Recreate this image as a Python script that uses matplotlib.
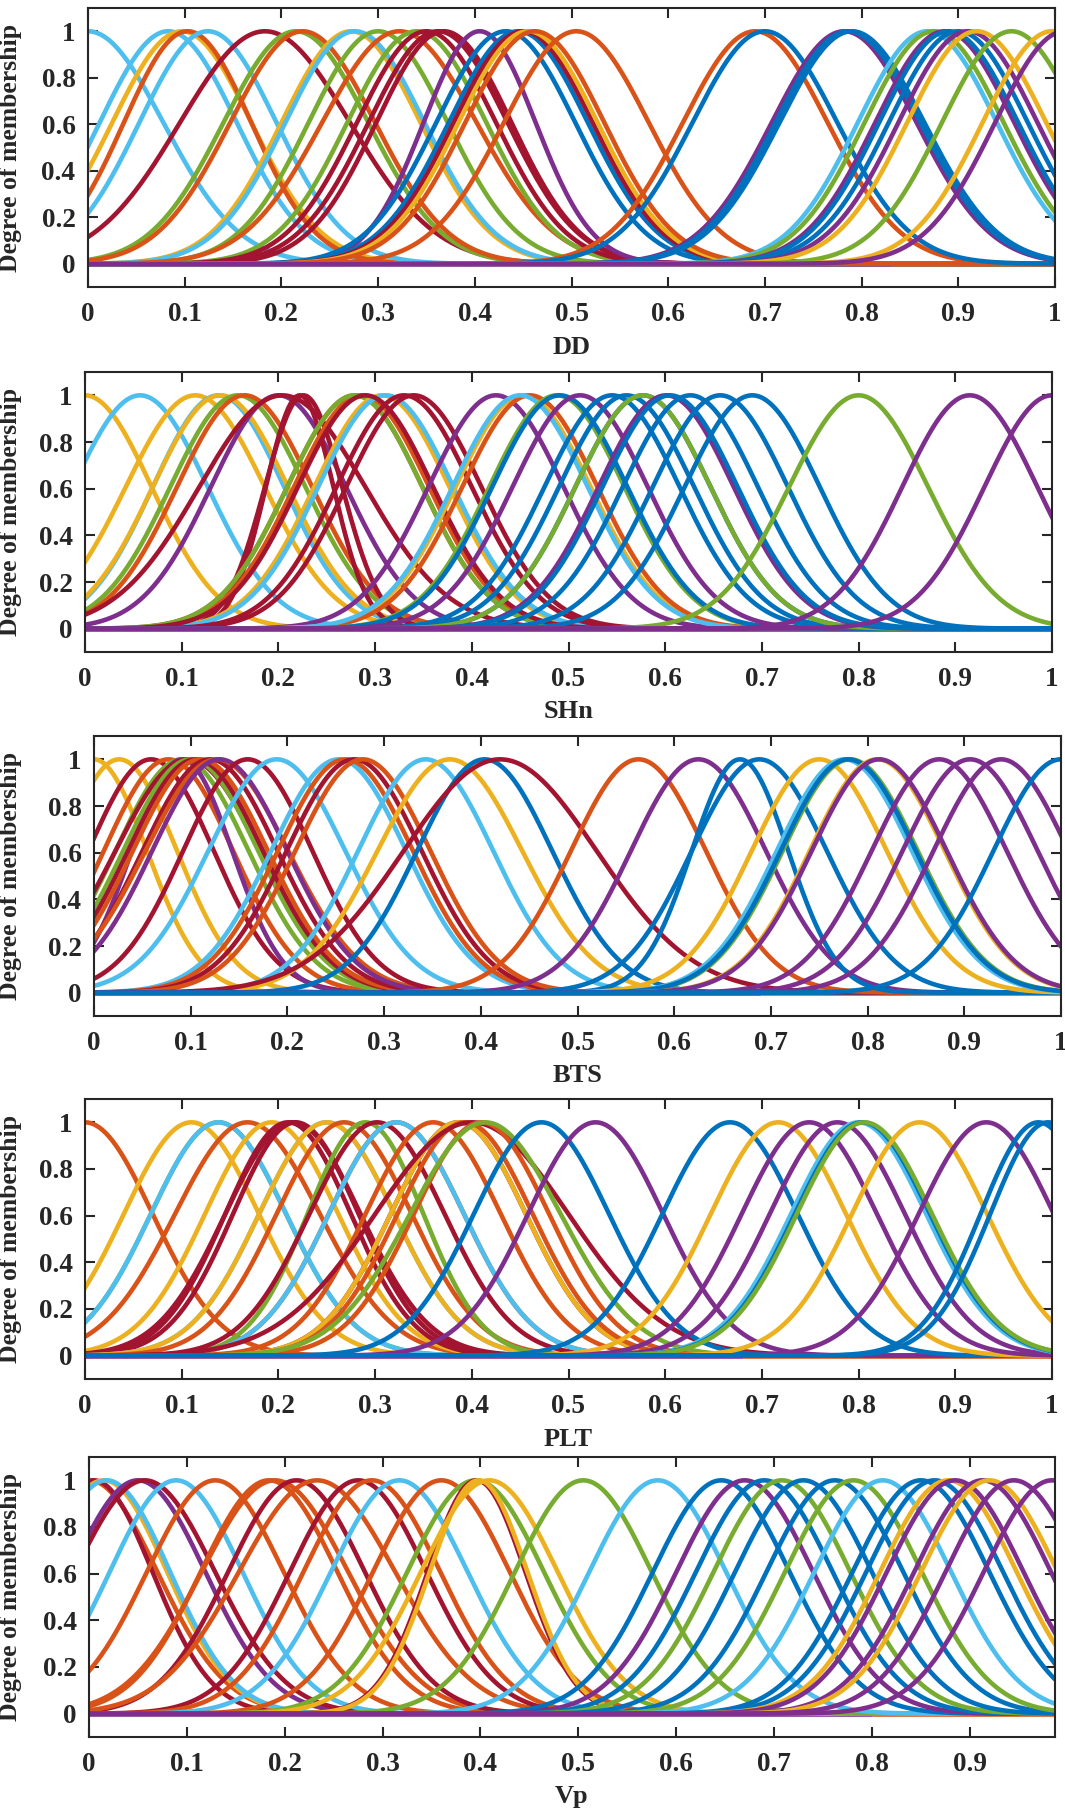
import numpy as np
import matplotlib
matplotlib.use("Agg")
import matplotlib.pyplot as plt

# MATLAB default colour order
colors = {'b': '#0072BD', 'o': '#D95319', 'y': '#EDB120', 'p': '#7E2F8E',
          'g': '#77AC30', 'c': '#4DBEEE', 'r': '#A2142F'}

# gaussian membership functions: (centre, sigma, colour)
dd_mf = [(0.000, .078, 'c'), (0.083, .071, 'c'), (0.097, .072, 'y'), (0.103, .066, 'o'),
         (0.124, .071, 'c'), (0.183, .088, 'r'), (0.215, .075, 'g'), (0.222, .075, 'o'),
         (0.272, .072, 'y'), (0.276, .072, 'c'), (0.300, .072, 'g'), (0.322, .080, 'o'),
         (0.340, .072, 'g'), (0.350, .072, 'r'), (0.362, .072, 'r'), (0.368, .070, 'r'),
         (0.405, .058, 'p'), (0.432, .072, 'b'), (0.445, .072, 'b'), (0.450, .072, 'r'),
         (0.455, .072, 'y'), (0.462, .072, 'o'), (0.505, .075, 'o'),
         (0.690, .075, 'o'), (0.700, .075, 'b'), (0.782, .075, 'p'), (0.786, .075, 'b'),
         (0.790, .075, 'b'), (0.868, .072, 'c'), (0.875, .072, 'g'), (0.886, .072, 'p'),
         (0.890, .072, 'b'), (0.900, .072, 'b'), (0.910, .072, 'p'), (0.919, .072, 'y'),
         (0.955, .072, 'g'), (0.997, .072, 'y'), (1.010, .072, 'p')]
dd_zero = [('p', 0.0, 0.83), ('o', 0.83, 1.0)]

shn_mf = [(0.000, .069, 'y'), (0.057, .070, 'c'), (0.114, .072, 'y'), (0.138, .068, 'c'),
          (0.140, .070, 'y'), (0.158, .070, 'g'), (0.165, .070, 'o'), (0.200, .070, 'p'),
          (0.204, .086, 'r'), (0.222, .035, 'r'), (0.226, .040, 'r'), (0.279, .070, 'o'),
          (0.286, .070, 'o'), (0.279, .070, 'g'), (0.307, .070, 'y'), (0.311, .070, 'c'),
          (0.290, .070, 'r'), (0.330, .070, 'r'), (0.340, .070, 'r'), (0.425, .070, 'p'),
          (0.453, .070, 'y'), (0.460, .070, 'o'), (0.450, .070, 'c'),
          (0.488, .070, 'g'), (0.491, .070, 'b'), (0.512, .070, 'p'), (0.545, .070, 'b'),
          (0.560, .070, 'b'), (0.577, .070, 'b'), (0.577, .070, 'g'), (0.601, .070, 'p'),
          (0.605, .070, 'b'), (0.626, .070, 'b'), (0.657, .070, 'b'), (0.690, .070, 'b'),
          (0.800, .072, 'g'), (0.915, .070, 'p'), (1.000, .070, 'p')]
shn_zero = [('p', 0.0, 1.0)]

bts_mf = [(0.000, .055, 'y'), (0.026, .060, 'y'), (0.059, .065, 'r'), (0.077, .067, 'o'),
          (0.091, .069, 'g'), (0.091, .052, 'p'), (0.097, .075, 'r'), (0.100, .070, 'g'),
          (0.105, .070, 'r'), (0.110, .070, 'o'), (0.120, .070, 'r'), (0.127, .074, 'o'),
          (0.130, .070, 'p'), (0.159, .067, 'r'), (0.189, .071, 'c'), (0.253, .070, 'c'),
          (0.260, .070, 'o'), (0.269, .070, 'r'), (0.278, .070, 'o'), (0.343, .070, 'c'),
          (0.368, .075, 'y'), (0.404, .070, 'b'), (0.420, .100, 'r'),
          (0.563, .070, 'o'), (0.625, .070, 'p'), (0.668, .050, 'b'), (0.688, .070, 'b'),
          (0.750, .070, 'y'), (0.776, .070, 'c'), (0.782, .070, 'g'), (0.780, .070, 'b'),
          (0.810, .070, 'y'), (0.812, .070, 'p'), (0.874, .070, 'p'), (0.906, .070, 'p'),
          (0.938, .070, 'p'), (1.000, .070, 'b')]
bts_zero = [('p', 0.0, 0.69), ('o', 0.69, 1.0)]

plt_mf = [(0.000, .070, 'o'), (0.110, .070, 'y'), (0.138, .070, 'g'), (0.138, .070, 'c'),
          (0.168, .075, 'o'), (0.193, .069, 'y'), (0.210, .065, 'r'), (0.215, .070, 'r'),
          (0.218, .065, 'r'), (0.250, .070, 'c'), (0.250, .070, 'y'), (0.268, .070, 'o'),
          (0.290, .060, 'g'), (0.302, .070, 'r'), (0.322, .070, 'o'), (0.322, .070, 'c'),
          (0.360, .070, 'o'), (0.386, .070, 'r'), (0.386, .070, 'y'), (0.393, .070, 'o'),
          (0.400, .100, 'r'), (0.410, .070, 'o'), (0.414, .078, 'g'), (0.472, .070, 'b'),
          (0.528, .070, 'p'), (0.667, .070, 'b'), (0.717, .070, 'y'), (0.749, .070, 'p'),
          (0.778, .070, 'p'), (0.800, .070, 'c'), (0.804, .070, 'b'), (0.806, .070, 'g'),
          (0.863, .070, 'y'), (0.932, .070, 'p'), (0.986, .060, 'b'), (0.996, .060, 'b')]
plt_zero = [('p', 0.0, 0.68), ('o', 0.68, 1.0)]

vp_mf = [(0.000, .070, 'o'), (0.005, .060, 'r'), (0.015, .065, 'y'), (0.018, .065, 'c'),
         (0.050, .069, 'p'), (0.057, .072, 'r'), (0.089, .068, 'c'), (0.129, .070, 'o'),
         (0.184, .070, 'o'), (0.190, .075, 'o'), (0.212, .070, 'r'), (0.233, .080, 'o'),
         (0.275, .070, 'r'), (0.289, .070, 'o'), (0.317, .070, 'c'), (0.360, .070, 'o'),
         (0.395, .070, 'g'), (0.396, .050, 'r'), (0.398, .050, 'y'), (0.409, .070, 'y'),
         (0.505, .070, 'g'), (0.581, .070, 'c'), (0.646, .070, 'b'), (0.670, .070, 'p'),
         (0.690, .070, 'b'), (0.708, .070, 'g'), (0.730, .070, 'b'), (0.762, .070, 'b'),
         (0.781, .070, 'g'), (0.811, .070, 'c'), (0.850, .070, 'b'), (0.864, .070, 'b'),
         (0.878, .070, 'y'), (0.885, .070, 'p'), (0.913, .070, 'p'), (0.920, .070, 'y'),
         (0.945, .070, 'p'), (0.984, .070, 'p')]
vp_zero = [('p', 0.0, 0.80), ('o', 0.80, 0.987)]

panels = [("DD", dd_mf, dd_zero, 1.0),
          ("SHn", shn_mf, shn_zero, 1.0),
          ("BTS", bts_mf, bts_zero, 1.0),
          ("PLT", plt_mf, plt_zero, 1.0),
          ("Vp", vp_mf, vp_zero, 0.987)]

# axes boxes in pixels: left, top, right, bottom
boxes = [(88, 8, 1055, 287),
         (85, 372, 1052, 652),
         (94, 736, 1061, 1016),
         (85, 1099, 1052, 1379),
         (89, 1457, 1055, 1737)]

W, H = 1065, 1809
plt.rcParams['font.family'] = ['Liberation Serif', 'DejaVu Serif']
plt.rcParams['font.weight'] = 'bold'
fig = plt.figure(figsize=(W / 100, H / 100), dpi=100)

for (name, mfs, zeros, xmax), (l, t, r, b) in zip(panels, boxes):
    ax = fig.add_axes([l / W, 1 - b / H, (r - l) / W, (b - t) / H])
    x = np.linspace(0, xmax, 600)
    for c, x0, x1 in zeros:
        ax.plot([x0, x1], [0, 0], color=colors[c], linewidth=3.3, solid_capstyle='butt')
    for mu, sig, c in mfs:
        ax.plot(x, np.exp(-(x - mu) ** 2 / (2 * sig ** 2)), color=colors[c], linewidth=3.3)
    ax.set_xlim(0, xmax)
    ax.set_ylim(-0.1, 1.1)
    ax.set_xticks(np.arange(0, 1.01, 0.1) if xmax >= 1 else np.arange(0, 0.91, 0.1))
    ax.set_xticklabels(["0" if v == 0 else ("1" if v == 1 else "%.1f" % v)
                        for v in ax.get_xticks()])
    ax.set_yticks([0, 0.2, 0.4, 0.6, 0.8, 1])
    ax.set_yticklabels(["0", "0.2", "0.4", "0.6", "0.8", "1"])
    ax.tick_params(direction='in', length=7, width=1.5, top=True, right=True,
                   labelsize=19.5, colors='#262626')
    ax.tick_params(axis='x', pad=11)
    ax.tick_params(axis='y', pad=9)
    for s in ax.spines.values():
        s.set_linewidth(1.5)
        s.set_color('#262626')
    ax.set_ylabel("Degree of membership", fontsize=18.5, fontweight='bold', color='#262626')
    ax.yaxis.set_label_coords(-(l - 22) / (r - l), 0.5)
    ax.set_xlabel(name, fontsize=19, fontweight='bold', color='#262626')
    ax.xaxis.set_label_coords(0.5, -60 / (b - t))
    ax.xaxis.label.set_va('center')

fig.savefig("out.png", dpi=100)
